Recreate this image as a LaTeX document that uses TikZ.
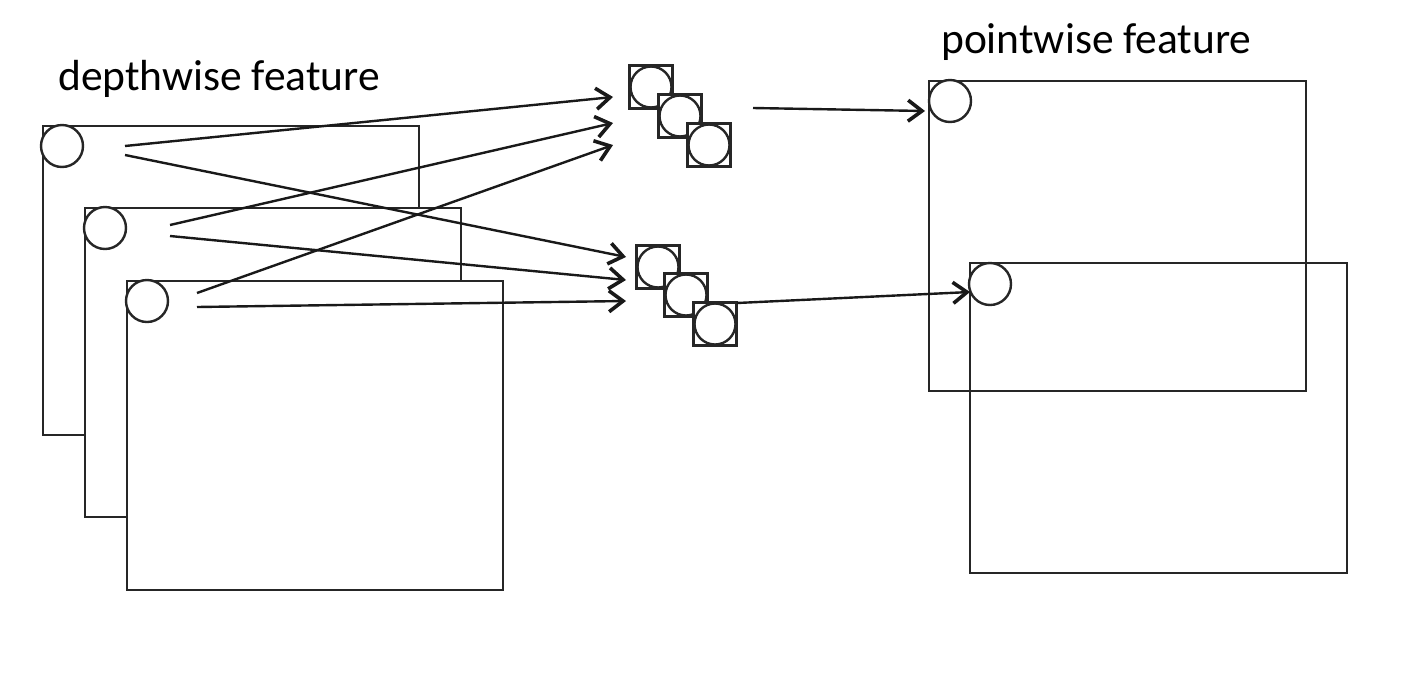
\documentclass[tikz,border=0pt]{standalone}
\usepackage{fontspec}
\setmainfont{Carlito}
\usetikzlibrary{arrows.meta}
\begin{document}
\begin{tikzpicture}[x=1pt,y=-1pt,
  frame/.style={draw=black!85, line width=2.4pt, fill=white, minimum width=376pt, minimum height=309pt, anchor=north west, inner sep=0pt},
  openframe/.style={draw=black!85, line width=2.4pt, minimum width=377pt, minimum height=310pt, anchor=north west, inner sep=0pt},
  dot/.style={circle, draw=black!85, line width=2.4pt, fill=white, minimum size=42pt, inner sep=0pt},
  cell/.style={rectangle, draw=black!85, line width=2.8pt, fill=white, minimum size=43pt, inner sep=0pt,
    path picture={\draw[line width=2.4pt, fill=white] (path picture bounding box.center) circle (20.5pt);}},
  link/.style={draw=black!90, line width=2.4pt, -{Straight Barb[length=14pt,width=21pt,line width=3.6pt]}},
  lbl/.style={font=\fontsize{43.5}{50}\selectfont, anchor=base west, inner sep=0pt}
]
\useasboundingbox (0,0) rectangle (1402,678);
\fill[white] (0,0) rectangle (1402,678);

% labels
\node[lbl] (tdw) at (58,90) {depthwise feature};
\node[lbl] (tpw) at (941,53) {pointwise feature};

% depthwise frames
\node[frame] (d1) at (42,125) {};
\node[dot] (c1) at (62,146) {};
\node[frame] (d2) at (84,207) {};
\node[dot] (c2) at (105,228) {};
\node[frame] (d3) at (126,280) {};
\node[dot] (c3) at (147,301) {};

% pointwise frames (outlines only)
\node[openframe] (p1) at (928,80) {};
\node[dot] (q1) at (950,101) {};
\node[openframe] (p2) at (969,262) {};
\node[dot] (q2) at (990,284) {};

% kernel clusters
\node[cell] (a1) at (651,87) {};
\node[cell] (a2) at (680,116) {};
\node[cell] (a3) at (709,145) {};
\node[cell] (b1) at (658,267) {};
\node[cell] (b2) at (686,295) {};
\node[cell] (b3) at (715,324) {};

% connector end points
\coordinate (s1a) at (125,146);
\coordinate (s1b) at (125,155);
\coordinate (s2a) at (170,225);
\coordinate (s2b) at (170,236);
\coordinate (s3a) at (197,293);
\coordinate (s3b) at (197,307);
\coordinate (ta1) at (613,97);
\coordinate (ta2) at (613,123);
\coordinate (ta3) at (613,145);
\coordinate (tb1) at (626,257);
\coordinate (tb2) at (626,280);
\coordinate (tb3) at (626,301);
\coordinate (oa) at (753,108);
\coordinate (ea) at (925,111);
\coordinate (ob) at (737,303);
\coordinate (eb) at (970,292);

\draw[link] (s1a) -- (ta1);
\draw[link] (s2a) -- (ta2);
\draw[link] (s3a) -- (ta3);
\draw[link] (s1b) -- (tb1);
\draw[link] (s2b) -- (tb2);
\draw[link] (s3b) -- (tb3);
\draw[link] (oa) -- (ea);
\draw[link] (ob) -- (eb);
\end{tikzpicture}
\end{document}
